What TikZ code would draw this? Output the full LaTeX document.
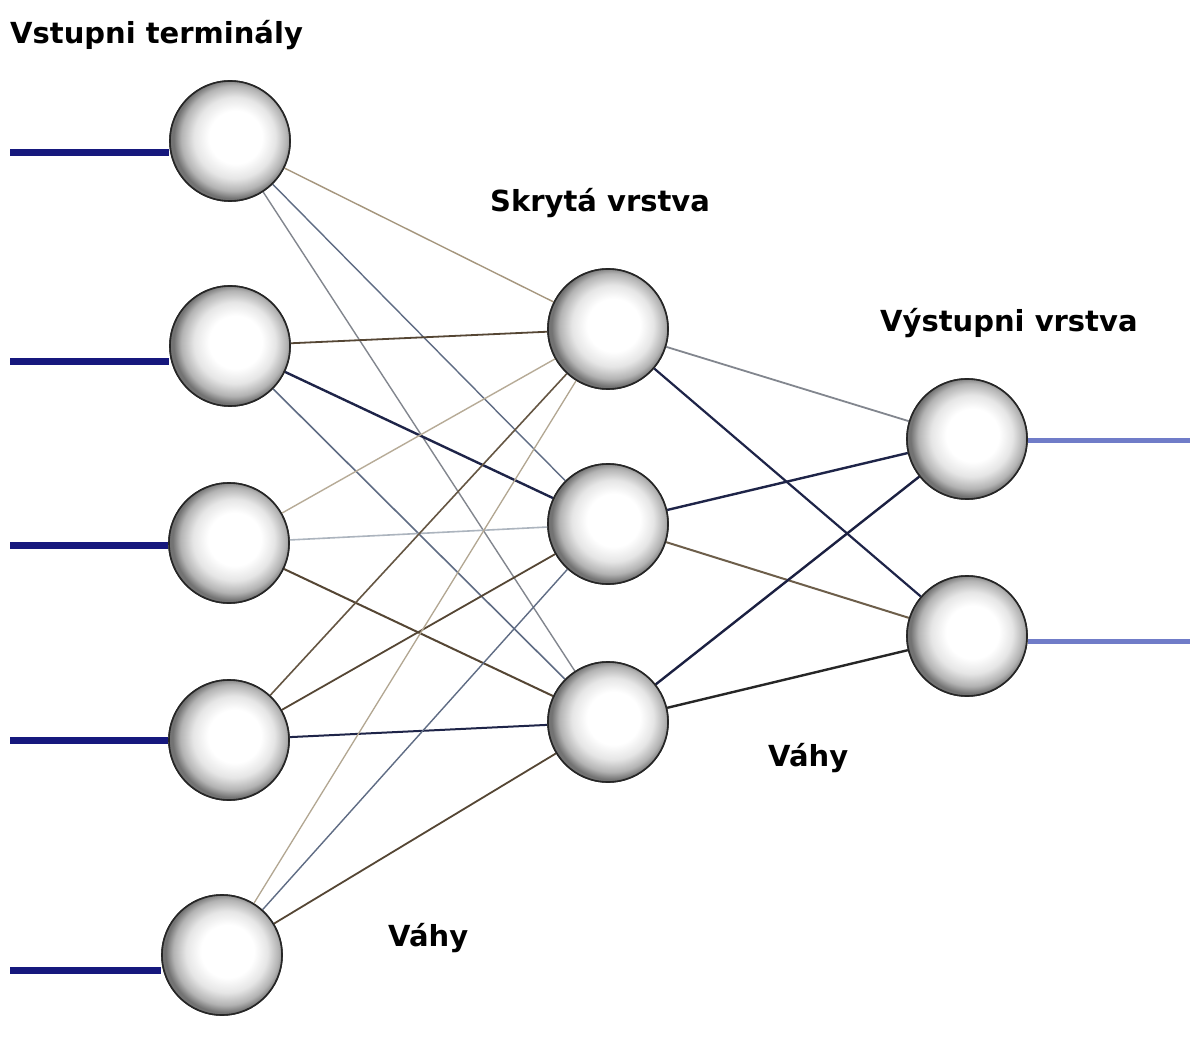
\documentclass[tikz,border=0pt]{standalone}
\usepackage{fontspec}
\setmainfont{DejaVu Sans}
\pgfdeclareradialshading{ballsh}{\pgfpoint{3bp}{2bp}}{color(0bp)=(white); color(11bp)=(white); color(17bp)=(black!10); color(22bp)=(black!30); color(25bp)=(black!55); color(50bp)=(black!55)}
\definecolor{inblue}{RGB}{22,24,125}
\definecolor{outblue}{RGB}{112,124,200}
\definecolor{ctan}{RGB}{165,150,125}
\definecolor{cgray}{RGB}{130,134,142}
\definecolor{cbgray}{RGB}{95,108,132}
\definecolor{cnavy}{RGB}{30,36,72}
\definecolor{cbrown}{RGB}{85,70,52}
\definecolor{clight}{RGB}{172,180,190}
\tikzset{
  neuron/.style={circle, minimum size=120pt, inner sep=0pt, shading=ballsh, draw=black!85, line width=1.6pt},
  lbl/.style={font=\bfseries\fontsize{29}{34}\selectfont, anchor=base west, inner sep=0pt},
  termline/.style={line width=7pt},
  wline/.style={line width=1.6pt}
}
\begin{document}
\begin{tikzpicture}[x=1pt,y=-1pt]
\useasboundingbox[fill=white] (0,0) rectangle (1200,1040);
% terminals (free ends)
\coordinate (s1) at (10,153);
\coordinate (s2) at (10,362);
\coordinate (s3) at (10,545);
\coordinate (s4) at (10,740);
\coordinate (s5) at (10,970);
\coordinate (t1) at (1190,441);
\coordinate (t2) at (1190,641);
% neurons
\node[neuron] (i1) at (230,141) {};
\node[neuron] (i2) at (230,346) {};
\node[neuron] (i3) at (229,543) {};
\node[neuron] (i4) at (229,740) {};
\node[neuron] (i5) at (222,955) {};
\node[neuron] (h1) at (608,329) {};
\node[neuron] (h2) at (608,524) {};
\node[neuron] (h3) at (608,722) {};
\node[neuron] (o1) at (967,439) {};
\node[neuron] (o2) at (967,636) {};
% terminal lines
\draw[termline, inblue] (s1) -- (s1 -| i1.west);
\draw[termline, inblue] (s2) -- (s2 -| i2.west);
\draw[termline, inblue] (s3) -- (s3 -| i3.west);
\draw[termline, inblue] (s4) -- (s4 -| i4.west);
\draw[termline, inblue] (s5) -- (s5 -| i5.west);
\draw[line width=5pt, outblue] (t1 -| o1.east) -- (t1);
\draw[line width=5pt, outblue] (t2 -| o2.east) -- (t2);
% weights input -> hidden
\draw[wline, ctan, line width=1.4pt] (i1) -- (h1);
\draw[wline, cbgray, line width=1.4pt] (i1) -- (h2);
\draw[wline, cgray, line width=1.4pt] (i1) -- (h3);
\draw[wline, cbrown, line width=1.8pt] (i2) -- (h1);
\draw[wline, cnavy, line width=2.4pt] (i2) -- (h2);
\draw[wline, cbgray] (i2) -- (h3);
\draw[wline, ctan!80, line width=1.4pt] (i3) -- (h1);
\draw[wline, clight] (i3) -- (h2);
\draw[wline, cbrown, line width=2pt] (i3) -- (h3);
\draw[wline, cbrown!80!ctan] (i4) -- (h1);
\draw[wline, cbrown, line width=1.8pt] (i4) -- (h2);
\draw[wline, cnavy, line width=2pt] (i4) -- (h3);
\draw[wline, ctan!85, line width=1.3pt] (i5) -- (h1);
\draw[wline, cbgray, line width=1.4pt] (i5) -- (h2);
\draw[wline, cbrown, line width=1.8pt] (i5) -- (h3);
% weights hidden -> output
\draw[wline, cgray, line width=1.8pt] (h1) -- (o1);
\draw[wline, cnavy, line width=2.2pt] (h1) -- (o2);
\draw[wline, cnavy, line width=2.4pt] (h2) -- (o1);
\draw[wline, cbrown!70!ctan, line width=2pt] (h2) -- (o2);
\draw[wline, cnavy!90!black, line width=2.4pt] (h3) -- (o1);
\draw[wline, black!85, line width=2.4pt] (h3) -- (o2);
% redraw neurons on top
\foreach \n in {i1,i2,i3,i4,i5,h1,h2,h3,o1,o2}{
  \path[shading=ballsh, draw=black!85, line width=1.6pt] (\n.center) circle[radius=60pt];
}
% labels
\node[lbl] (lin) at (10,44) {Vstupni terminály};
\node[lbl] (lhid) at (490,212) {Skrytá vrstva};
\node[lbl] (lout) at (880,332) {Výstupni vrstva};
\node[lbl] (lw2) at (768,766) {Váhy};
\node[lbl] (lw1) at (388,946) {Váhy};
\end{tikzpicture}
\end{document}
